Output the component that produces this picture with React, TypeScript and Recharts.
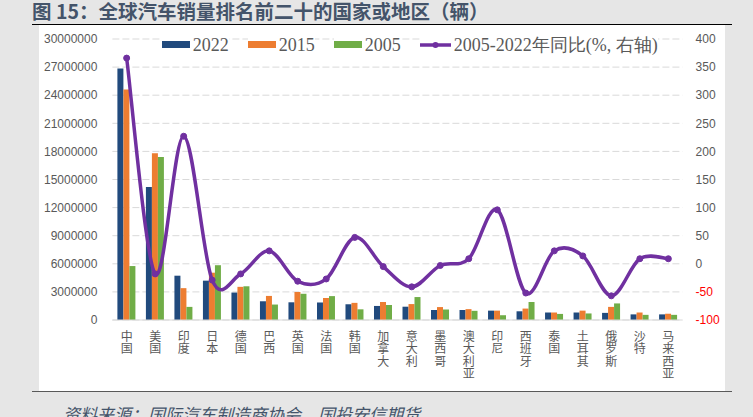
import React from "react";
import {
  ComposedChart,
  Bar,
  Line,
  XAxis,
  YAxis,
  CartesianGrid,
  Legend,
} from "recharts";

// Top-20 markets, in chart order.
const REGIONS = [
  "中国", "美国", "印度", "日本", "德国", "巴西", "英国", "法国", "韩国", "加拿大",
  "意大利", "墨西哥", "澳大利亚", "印尼", "西班牙", "泰国", "土耳其", "俄罗斯", "沙特", "马来西亚",
];

// Vehicle sales (units).
const SALES_2022 = [
  26860000, 14200000, 4730000, 4200000, 2930000, 2000000, 1890000, 1870000, 1680000, 1500000,
  1420000, 1070000, 1070000, 1000000, 930000, 800000, 800000, 760000, 600000, 600000,
];
const SALES_2015 = [
  24600000, 17800000, 3400000, 5050000, 3540000, 2570000, 3000000, 2350000, 1830000, 1920000,
  1700000, 1380000, 1160000, 1000000, 1220000, 800000, 1000000, 1400000, 800000, 670000,
];
const SALES_2005 = [
  5760000, 17400000, 1400000, 5850000, 3600000, 1650000, 2800000, 2550000, 1140000, 1600000,
  2450000, 1120000, 980000, 510000, 1920000, 650000, 700000, 1770000, 550000, 550000,
];
// 2005 -> 2022 change, % (right axis).
const GROWTH_05_22 = [
  366, -18, 227, -29, -18, 23, -31, -27, 47, -5,
  -41, -3, 9, 96, -52, 23, 14, -57, 9, 9,
];

const LEFT_TICKS = [
  0, 3000000, 6000000, 9000000, 12000000, 15000000,
  18000000, 21000000, 24000000, 27000000, 30000000,
];
const RIGHT_TICKS = [-100, -50, 0, 50, 100, 150, 200, 250, 300, 350, 400];

const C_2022 = "#214a7d";
const C_2015 = "#ed7d31";
const C_2005 = "#70ad47";
const C_LINE = "#7030a0";
const AXIS_TEXT = "#595959";
const GRID = "#d9d9d9";
const SANS = "'Liberation Sans', Arial, sans-serif";
const SERIF = "'Liberation Serif', 'Times New Roman', serif";
const CJK = "'Noto Sans CJK SC', sans-serif";

const rows = REGIONS.map((name, i) => ({
  name,
  y2022: SALES_2022[i],
  y2015: SALES_2015[i],
  y2005: SALES_2005[i],
  growth: GROWTH_05_22[i],
}));

const LEGEND_ITEMS = [
  { key: "y2022", label: "2022", color: C_2022, line: false },
  { key: "y2015", label: "2015", color: C_2015, line: false },
  { key: "y2005", label: "2005", color: C_2005, line: false },
  { key: "growth", label: "2005-2022年同比(%, 右轴)", color: C_LINE, line: true },
];

// Excel-style smoothed line (Catmull-Rom through every point).
function excelSmooth(context: any) {
  let pts: [number, number][] = [];
  return {
    areaStart() {},
    areaEnd() {},
    lineStart() {
      pts = [];
    },
    point(x: number, y: number) {
      pts.push([+x, +y]);
    },
    lineEnd() {
      if (!pts.length) return;
      context.moveTo(pts[0][0], pts[0][1]);
      for (let i = 0; i < pts.length - 1; i++) {
        const p0 = pts[i - 1] ?? pts[i];
        const p1 = pts[i];
        const p2 = pts[i + 1];
        const p3 = pts[i + 2] ?? p2;
        context.bezierCurveTo(
          p1[0] + (p2[0] - p0[0]) / 6,
          p1[1] + (p2[1] - p0[1]) / 6,
          p2[0] - (p3[0] - p1[0]) / 6,
          p2[1] - (p3[1] - p1[1]) / 6,
          p2[0],
          p2[1]
        );
      }
    },
  };
}

// Category names written top-to-bottom, one upright character per line.
function StackedTick({ x, y, payload }: any) {
  return (
    <text
      x={x}
      y={y + 2}
      textAnchor="start"
      fill={AXIS_TEXT}
      fontSize={12}
      fontFamily={CJK}
      style={{ writingMode: "vertical-rl", textOrientation: "upright", letterSpacing: 0.5 }}
    >
      {payload.value}
    </text>
  );
}

function RightTick({ x, y, payload }: any) {
  return (
    <text
      x={x}
      y={y}
      dy="0.355em"
      textAnchor="start"
      fill={payload.value < 0 ? "#ff0000" : AXIS_TEXT}
      fontSize={12}
      fontFamily={SANS}
    >
      {payload.value}
    </text>
  );
}

function LegendRow() {
  return (
    <div
      style={{
        display: "flex",
        alignItems: "center",
        fontFamily: SERIF,
        fontSize: 18,
        lineHeight: "18px",
        color: AXIS_TEXT,
        whiteSpace: "nowrap",
      }}
    >
      {LEGEND_ITEMS.map((it) => (
        <div
          key={it.key}
          style={{
            display: "flex",
            alignItems: "center",
            background: "#fff",
            marginRight: 19,
          }}
        >
          {it.line ? (
            <svg width={31} height={8}>
              <line x1={0} y1={4} x2={31} y2={4} stroke={it.color} strokeWidth={3.5} />
              <circle cx={15.5} cy={4} r={3} fill={it.color} />
            </svg>
          ) : (
            <span style={{ display: "inline-block", width: 28, height: 7, background: it.color }} />
          )}
          <span style={{ marginLeft: 3 }}>{it.label}</span>
        </div>
      ))}
    </div>
  );
}

export default function App() {
  return (
    <div
      style={{
        position: "absolute",
        left: 0,
        top: 0,
        width: 753,
        height: 417,
        background: "#e6e6e6",
        overflow: "hidden",
      }}
    >
      <div
        style={{
          position: "absolute",
          left: 32,
          top: 1,
          fontFamily: CJK,
          fontWeight: 700,
          fontSize: 19.5,
          lineHeight: "19px",
          color: "#44546a",
          whiteSpace: "nowrap",
        }}
      >
        图 15：全球汽车销量排名前二十的国家或地区（辆）
      </div>
      <div style={{ position: "absolute", left: 32, top: 24, width: 700, height: 1, background: "#000" }} />
      <div style={{ position: "absolute", left: 39, top: 25, width: 686, height: 366, background: "#fff" }} />
      <div style={{ position: "absolute", left: 32, top: 391, width: 700, height: 1, background: "#595959" }} />

      <div style={{ position: "absolute", left: 39, top: 24 }}>
        <ComposedChart
          width={686}
          height={367}
          data={rows}
          margin={{ top: 15, right: 0, bottom: 0, left: 0 }}
          barGap={0}
          barSize={6}
        >
          <CartesianGrid
            yAxisId="left"
            vertical={false}
            stroke={GRID}
            strokeDasharray="7 3"
          />
          <XAxis
            dataKey="name"
            height={71}
            interval={0}
            tickLine={false}
            axisLine={{ stroke: GRID }}
            tick={<StackedTick />}
          />
          <YAxis
            yAxisId="left"
            domain={[0, 30000000]}
            ticks={LEFT_TICKS}
            interval={0}
            width={73.4}
            axisLine={false}
            tickLine={false}
            tickSize={0}
            tickMargin={15}
            tick={{ fill: AXIS_TEXT, fontSize: 12, fontFamily: SANS }}
          />
          <YAxis
            yAxisId="right"
            orientation="right"
            domain={[-100, 400]}
            ticks={RIGHT_TICKS}
            interval={0}
            width={42.4}
            axisLine={false}
            tickLine={false}
            tickSize={0}
            tickMargin={13}
            tick={<RightTick />}
          />
          <Legend
            layout="horizontal"
            verticalAlign="middle"
            align="center"
            content={<LegendRow />}
            wrapperStyle={{ top: 11.5, left: 122.7, width: "auto" }}
          />
          <Bar yAxisId="left" dataKey="y2022" fill={C_2022} isAnimationActive={false} />
          <Bar yAxisId="left" dataKey="y2015" fill={C_2015} isAnimationActive={false} />
          <Bar yAxisId="left" dataKey="y2005" fill={C_2005} isAnimationActive={false} />
          <Line
            yAxisId="right"
            dataKey="growth"
            type={excelSmooth as any}
            stroke={C_LINE}
            strokeWidth={3.5}
            dot={{ r: 3, fill: C_LINE, stroke: C_LINE, strokeWidth: 1 }}
            activeDot={false}
            isAnimationActive={false}
          />
        </ComposedChart>
      </div>

      <div
        style={{
          position: "absolute",
          left: 63,
          top: 405,
          fontFamily: CJK,
          fontStyle: "italic",
          fontSize: 17,
          lineHeight: "17px",
          color: "#44546a",
          whiteSpace: "nowrap",
        }}
      >
        资料来源：国际汽车制造商协会，国投安信期货
      </div>
    </div>
  );
}
